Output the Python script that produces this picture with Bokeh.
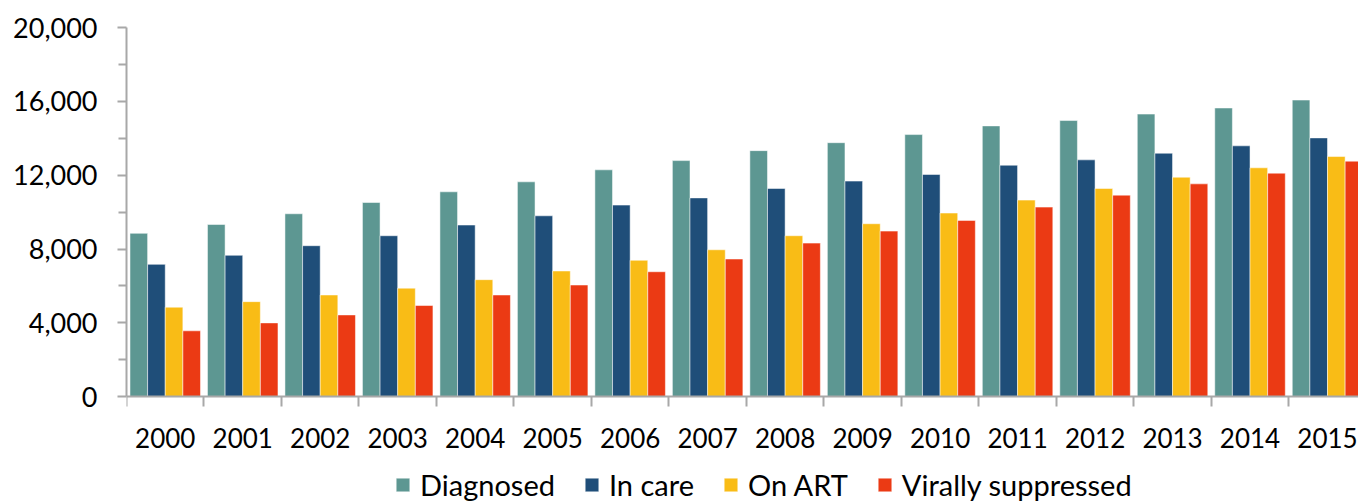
import numpy as np
from bokeh.plotting import figure
from bokeh.models import (Range1d, FixedTicker, NumeralTickFormatter, Legend, LegendItem)
from bokeh.embed import file_html
from bokeh.resources import INLINE

years = ["2000", "2001", "2002", "2003", "2004", "2005", "2006", "2007",
         "2008", "2009", "2010", "2011", "2012", "2013", "2014", "2015"]
diagnosed = [8850, 9330, 9910, 10520, 11100, 11640, 12290, 12790,
             13330, 13760, 14200, 14670, 14960, 15310, 15640, 16070]
in_care = [7170, 7660, 8180, 8720, 9300, 9800, 10380, 10770,
           11280, 11680, 12040, 12540, 12830, 13190, 13590, 14020]
on_art = [4850, 5150, 5510, 5880, 6340, 6810, 7390, 7960,
          8720, 9370, 9950, 10650, 11280, 11890, 12400, 13010]
suppressed = [3570, 4000, 4430, 4940, 5510, 6050, 6770, 7460,
              8320, 8970, 9550, 10270, 10920, 11530, 12110, 12760]

series_names = ["Diagnosed", "In care", "On ART", "Virally suppressed"]
series_values = [diagnosed, in_care, on_art, suppressed]
colors = ["#5D9792", "#1F4E79", "#F9BC16", "#EB3A14"]

y_ticks = [0, 4000, 8000, 12000, 16000, 20000]
y_minor = [2000, 6000, 10000, 14000, 18000]

FONT = "Lato"
AXIS_GREY = "#a8a8a8"

n = len(years)
# frame extends below zero so that the category labels and legend sit inside it
p = figure(frame_width=1232, frame_height=475, output_backend="svg", toolbar_location=None,
           x_range=Range1d(0, 15.9), y_range=Range1d(-5730, 20000),
           min_border_left=126, min_border_right=0, min_border_top=27, min_border_bottom=0)
p.outline_line_color = None
p.xgrid.visible = False
p.ygrid.visible = False

idx = np.arange(n)
bar_w = 0.2275
start = 0.045
renderers = []
for j, (name, vals, col) in enumerate(zip(series_names, series_values, colors)):
    xs = idx + start + bar_w * (j + 0.5)
    r = p.vbar(x=xs, top=vals, width=bar_w, bottom=0, fill_color=col,
               line_color="white", line_alpha=0.5, line_width=1)
    renderers.append((name, r))

# x axis, drawn at y = 0
centers = list(idx + 0.5)
boundaries = list(range(n + 1))
p.xaxis.fixed_location = 0
p.xaxis.ticker = FixedTicker(ticks=centers, minor_ticks=boundaries)
p.xaxis.major_label_overrides = {float(c): y for c, y in zip(centers, years)}
p.xaxis.major_tick_out = 0
p.xaxis.major_tick_in = 0
p.xaxis.minor_tick_out = 10
p.xaxis.minor_tick_in = 0
p.xaxis.minor_tick_line_color = AXIS_GREY
p.xaxis.minor_tick_line_width = 2
p.xaxis.axis_line_color = AXIS_GREY
p.xaxis.axis_line_width = 2
p.xaxis.major_label_standoff = 21
p.xaxis.major_label_text_font = FONT
p.xaxis.major_label_text_font_size = "26px"
p.xaxis.major_label_text_color = "black"

# y axis
p.yaxis.bounds = (0, 20000)
p.yaxis.ticker = FixedTicker(ticks=y_ticks, minor_ticks=y_minor)
p.yaxis.formatter = NumeralTickFormatter(format="0,0")
p.yaxis.major_tick_out = 9
p.yaxis.major_tick_in = 0
p.yaxis.minor_tick_out = 8
p.yaxis.minor_tick_in = 0
p.yaxis.major_tick_line_color = AXIS_GREY
p.yaxis.minor_tick_line_color = AXIS_GREY
p.yaxis.major_tick_line_width = 2
p.yaxis.minor_tick_line_width = 2
p.yaxis.axis_line_color = AXIS_GREY
p.yaxis.axis_line_width = 2
p.yaxis.major_label_standoff = 20
p.yaxis.major_label_text_font = FONT
p.yaxis.major_label_text_font_size = "27px"
p.yaxis.major_label_text_color = "black"

legend = Legend(items=[LegendItem(label=nm, renderers=[r]) for nm, r in renderers],
                orientation="horizontal", location=(268, 0),
                label_text_font=FONT, label_text_font_size="29px",
                label_text_color="black",
                glyph_width=17, glyph_height=17, label_standoff=9,
                spacing=28, padding=0, margin=0, border_line_color=None,
                background_fill_alpha=0)
p.add_layout(legend, "center")

open("out.html", "w").write(file_html(p, INLINE))
